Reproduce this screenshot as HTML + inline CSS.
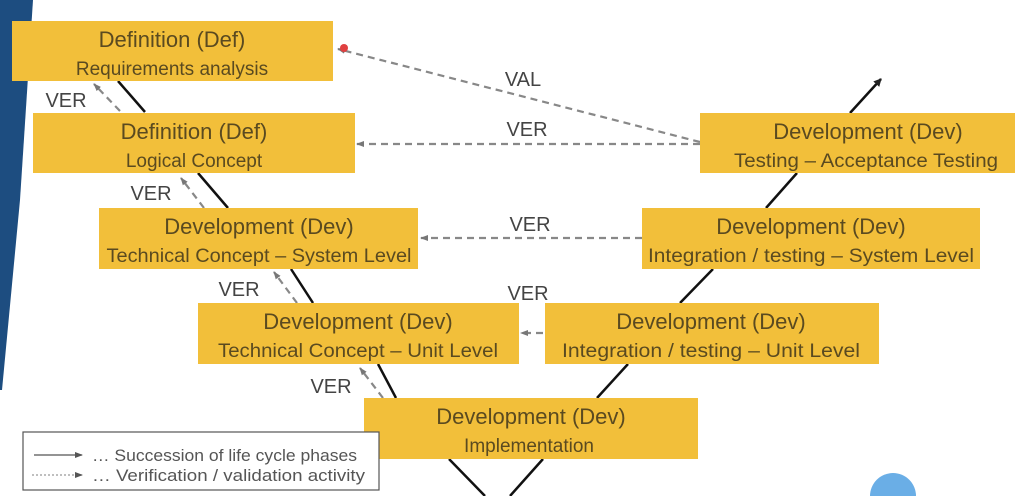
<!DOCTYPE html>
<html><head><meta charset="utf-8"><style>
body{margin:0;background:#fff;width:1015px;height:496px;overflow:hidden}
svg text{font-family:"Liberation Sans",sans-serif;fill:#5a4a20}
</style></head><body>
<svg width="1015" height="496" viewBox="0 0 1015 496" xmlns="http://www.w3.org/2000/svg">
<defs>
<marker id="ah" markerWidth="8" markerHeight="8" refX="7" refY="4" orient="auto" markerUnits="userSpaceOnUse"><path d="M0,0 L8,4 L0,8z" fill="#222"/></marker>
<marker id="dh" markerWidth="8" markerHeight="8" refX="7" refY="4" orient="auto" markerUnits="userSpaceOnUse"><path d="M0,1 L8,4 L0,7z" fill="#777"/></marker>
<marker id="lh" markerWidth="8" markerHeight="8" refX="7" refY="4" orient="auto" markerUnits="userSpaceOnUse"><path d="M0,1 L8,4 L0,7z" fill="#555"/></marker>
</defs>
<polygon points="0,0 33,0 20,200 2,390 0,390" fill="#1d4d80"/>
<g stroke="#111" stroke-width="2.5" fill="none">
<line x1="118" y1="81" x2="145" y2="112"/>
<line x1="198" y1="173" x2="228" y2="208"/>
<line x1="291" y1="269" x2="313" y2="303"/>
<line x1="378" y1="364" x2="396" y2="398"/>
<line x1="449" y1="459" x2="485" y2="496"/>
<line x1="543" y1="459" x2="510" y2="496"/>
<line x1="597" y1="398" x2="628" y2="364"/>
<line x1="680" y1="303" x2="713" y2="269"/>
<line x1="766" y1="208" x2="797" y2="173"/>
<line x1="850" y1="113" x2="881" y2="79" marker-end="url(#ah)"/>
</g>
<g stroke="#888" stroke-width="2.2" fill="none" stroke-dasharray="7,5">
<line x1="120" y1="111" x2="94" y2="84" marker-end="url(#dh)"/>
<line x1="204" y1="208" x2="181" y2="178" marker-end="url(#dh)"/>
<line x1="297" y1="303" x2="274" y2="272" marker-end="url(#dh)"/>
<line x1="383" y1="398" x2="360" y2="368" marker-end="url(#dh)"/>
<line x1="700" y1="144" x2="357" y2="144" marker-end="url(#dh)"/>
<line x1="642" y1="238" x2="421" y2="238" marker-end="url(#dh)"/>
<line x1="543" y1="333" x2="521" y2="333" marker-end="url(#dh)"/>
<line x1="700" y1="142" x2="338" y2="49" marker-end="url(#dh)"/>
</g>
<circle cx="344" cy="48" r="4" fill="#e04040"/>
<g fill="#f2bf3a">
<rect x="12" y="21" width="321" height="60"/>
<rect x="33" y="113" width="322" height="60"/>
<rect x="99" y="208" width="319" height="61"/>
<rect x="198" y="303" width="321" height="61"/>
<rect x="364" y="398" width="334" height="61"/>
<rect x="545" y="303" width="334" height="61"/>
<rect x="642" y="208" width="338" height="61"/>
<rect x="700" y="113" width="315" height="60"/>
</g>
<g text-anchor="middle">
<text x="172" y="47" font-size="22">Definition (Def)</text>
<text x="172" y="75" font-size="19">Requirements analysis</text>
<text x="194" y="139" font-size="22">Definition (Def)</text>
<text x="194" y="167" font-size="19">Logical Concept</text>
<text x="259" y="234" font-size="22">Development (Dev)</text>
<text x="259" y="262" font-size="19" textLength="305" lengthAdjust="spacingAndGlyphs">Technical Concept – System Level</text>
<text x="358" y="329" font-size="22">Development (Dev)</text>
<text x="358" y="357" font-size="19" textLength="280" lengthAdjust="spacingAndGlyphs">Technical Concept – Unit Level</text>
<text x="531" y="424" font-size="22">Development (Dev)</text>
<text x="529" y="452" font-size="19">Implementation</text>
<text x="711" y="329" font-size="22">Development (Dev)</text>
<text x="711" y="357" font-size="19" textLength="298" lengthAdjust="spacingAndGlyphs">Integration / testing – Unit Level</text>
<text x="811" y="234" font-size="22">Development (Dev)</text>
<text x="811" y="262" font-size="19" textLength="326" lengthAdjust="spacingAndGlyphs">Integration / testing – System Level</text>
<text x="868" y="139" font-size="22">Development (Dev)</text>
<text x="866" y="167" font-size="19" textLength="264" lengthAdjust="spacingAndGlyphs">Testing – Acceptance Testing</text>
</g>
<g font-size="20" text-anchor="middle">
<text x="66" y="107" style="fill:#444">VER</text>
<text x="151" y="200" style="fill:#444">VER</text>
<text x="239" y="296" style="fill:#444">VER</text>
<text x="331" y="393" style="fill:#444">VER</text>
<text x="523" y="86" style="fill:#444">VAL</text>
<text x="527" y="136" style="fill:#444">VER</text>
<text x="530" y="231" style="fill:#444">VER</text>
<text x="528" y="300" style="fill:#444">VER</text>
</g>
<rect x="23" y="432" width="356" height="58" fill="#fff" stroke="#555" stroke-width="1.2"/>
<line x1="34" y1="455" x2="82" y2="455" stroke="#555" stroke-width="1.2" marker-end="url(#lh)"/>
<line x1="32" y1="475" x2="82" y2="475" stroke="#999" stroke-width="1.2" stroke-dasharray="2,2" marker-end="url(#lh)"/>
<text x="92" y="461" font-size="17" style="fill:#555" textLength="265" lengthAdjust="spacingAndGlyphs">… Succession of life cycle phases</text>
<text x="92" y="481" font-size="17" style="fill:#555" textLength="273" lengthAdjust="spacingAndGlyphs">… Verification / validation activity</text>
<circle cx="893" cy="496" r="23" fill="#6aaee6"/>
</svg>
</body></html>
